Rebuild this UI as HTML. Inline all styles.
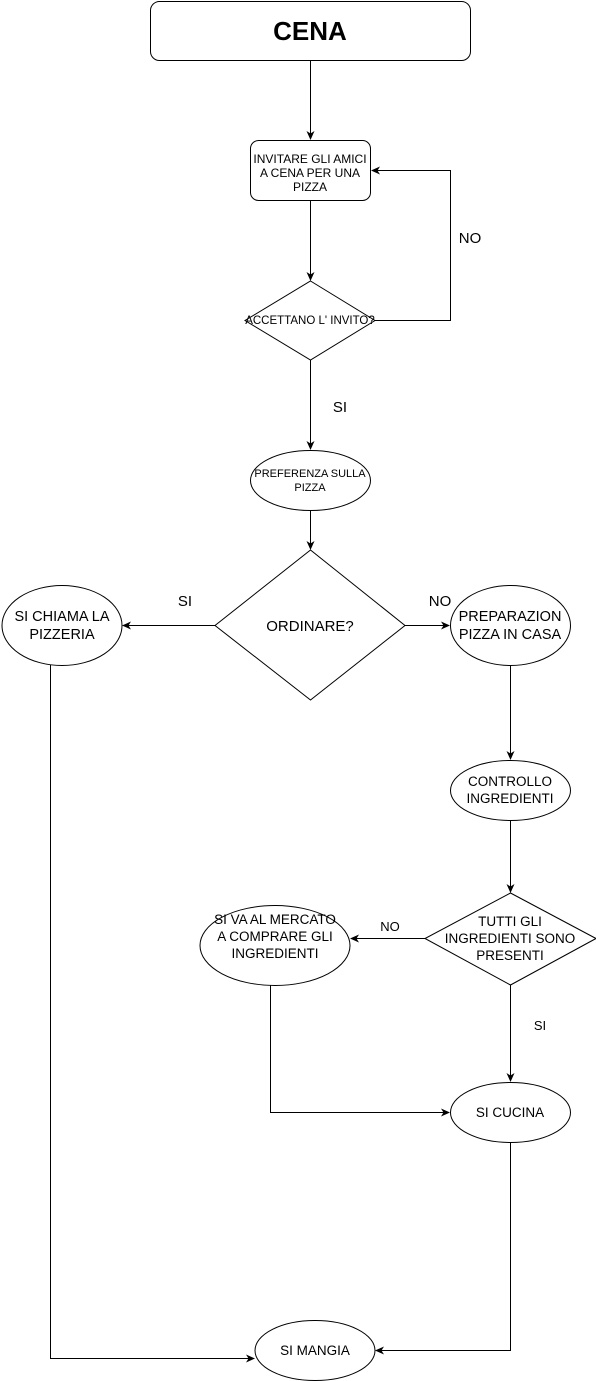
<!DOCTYPE html>
<html><head><meta charset="utf-8"><style>
html,body{margin:0;padding:0;background:#fff;}
svg{display:block;font-family:"Liberation Sans",Arial,sans-serif;}
</style></head><body>
<svg width="596" height="1381" viewBox="0 0 596 1381" xmlns="http://www.w3.org/2000/svg">
<defs><marker id="a" markerWidth="10" markerHeight="10" refX="8" refY="4" orient="auto" markerUnits="userSpaceOnUse"><path d="M0,0 L9,4 L0,8 L2.5,4 Z" fill="#000"/></marker></defs>
<g fill="none" stroke="#000" stroke-width="1">
<rect x="150.5" y="1.5" width="320" height="59" rx="9"/>
<rect x="250.5" y="140.5" width="120" height="60" rx="8"/>
<polygon points="310.5,281 375,320.5 310.5,360 245,320.5"/>
<ellipse cx="310.5" cy="480.5" rx="60" ry="30"/>
<polygon points="310.5,550 405,625.5 310.5,700 215,625.5"/>
<ellipse cx="62" cy="625.5" rx="60" ry="40"/>
<ellipse cx="510.5" cy="625.5" rx="60" ry="40"/>
<ellipse cx="510.5" cy="790.5" rx="60" ry="30"/>
<polygon points="510.5,893 596,938.5 510.5,985 425,938.5"/>
<ellipse cx="275" cy="945.5" rx="75" ry="40"/>
<ellipse cx="510.5" cy="1112.5" rx="60" ry="30"/>
<ellipse cx="315" cy="1350.5" rx="60" ry="30"/>
<path d="M310.5,61 V139" marker-end="url(#a)"/>
<path d="M310.5,201 V280" marker-end="url(#a)"/>
<path d="M375,320.5 H450.5 V170.5 H372" marker-end="url(#a)"/>
<path d="M310.5,360 V449" marker-end="url(#a)"/>
<path d="M310.5,510 V549" marker-end="url(#a)"/>
<path d="M215,625.5 H123" marker-end="url(#a)"/>
<path d="M405,625.5 H449" marker-end="url(#a)"/>
<path d="M510.5,665 V759" marker-end="url(#a)"/>
<path d="M510.5,820 V892" marker-end="url(#a)"/>
<path d="M425,938.5 H351" marker-end="url(#a)"/>
<path d="M510.5,985 V1081" marker-end="url(#a)"/>
<path d="M270.5,985 V1112.5 H449" marker-end="url(#a)"/>
<path d="M510.5,1142 V1350.5 H376" marker-end="url(#a)"/>
<path d="M50.5,665 V1358.5 H254" marker-end="url(#a)"/>
</g>
<g fill="#000" text-anchor="middle">
<text x="310" y="40" font-size="26" font-weight="bold">CENA</text>
<text x="310" y="163" font-size="12">INVITARE GLI AMICI</text>
<text x="310" y="177" font-size="12">A CENA PER UNA</text>
<text x="310" y="191" font-size="12">PIZZA</text>
<text x="310" y="324" font-size="11.5">ACCETTANO L' INVITO?</text>
<text x="310" y="477" font-size="11">PREFERENZA SULLA</text>
<text x="310" y="491" font-size="11">PIZZA</text>
<text x="310" y="631" font-size="15">ORDINARE?</text>
<text x="62" y="621" font-size="14.5">SI CHIAMA LA</text>
<text x="62" y="639" font-size="14.5">PIZZERIA</text>
<text x="510" y="621" font-size="14.5">PREPARAZION</text>
<text x="510" y="639" font-size="14.5">PIZZA IN CASA</text>
<text x="510" y="786" font-size="13.5">CONTROLLO</text>
<text x="510" y="803" font-size="13.5">INGREDIENTI</text>
<text x="510" y="926" font-size="13.5">TUTTI GLI</text>
<text x="510" y="943" font-size="13.5">INGREDIENTI SONO</text>
<text x="510" y="960" font-size="13.5">PRESENTI</text>
<text x="275" y="924" font-size="13.5">SI VA AL MERCATO</text>
<text x="275" y="941" font-size="13.5">A COMPRARE GLI</text>
<text x="275" y="958" font-size="13.5">INGREDIENTI</text>
<text x="510" y="1117" font-size="13.5">SI CUCINA</text>
<text x="315" y="1355" font-size="13.5">SI MANGIA</text>
<text x="470" y="243" font-size="15">NO</text>
<text x="340" y="412" font-size="15">SI</text>
<text x="185" y="606" font-size="15">SI</text>
<text x="440" y="606" font-size="15">NO</text>
<text x="390" y="931" font-size="13">NO</text>
<text x="540" y="1030" font-size="13">SI</text>
</g>
</svg>
</body></html>
